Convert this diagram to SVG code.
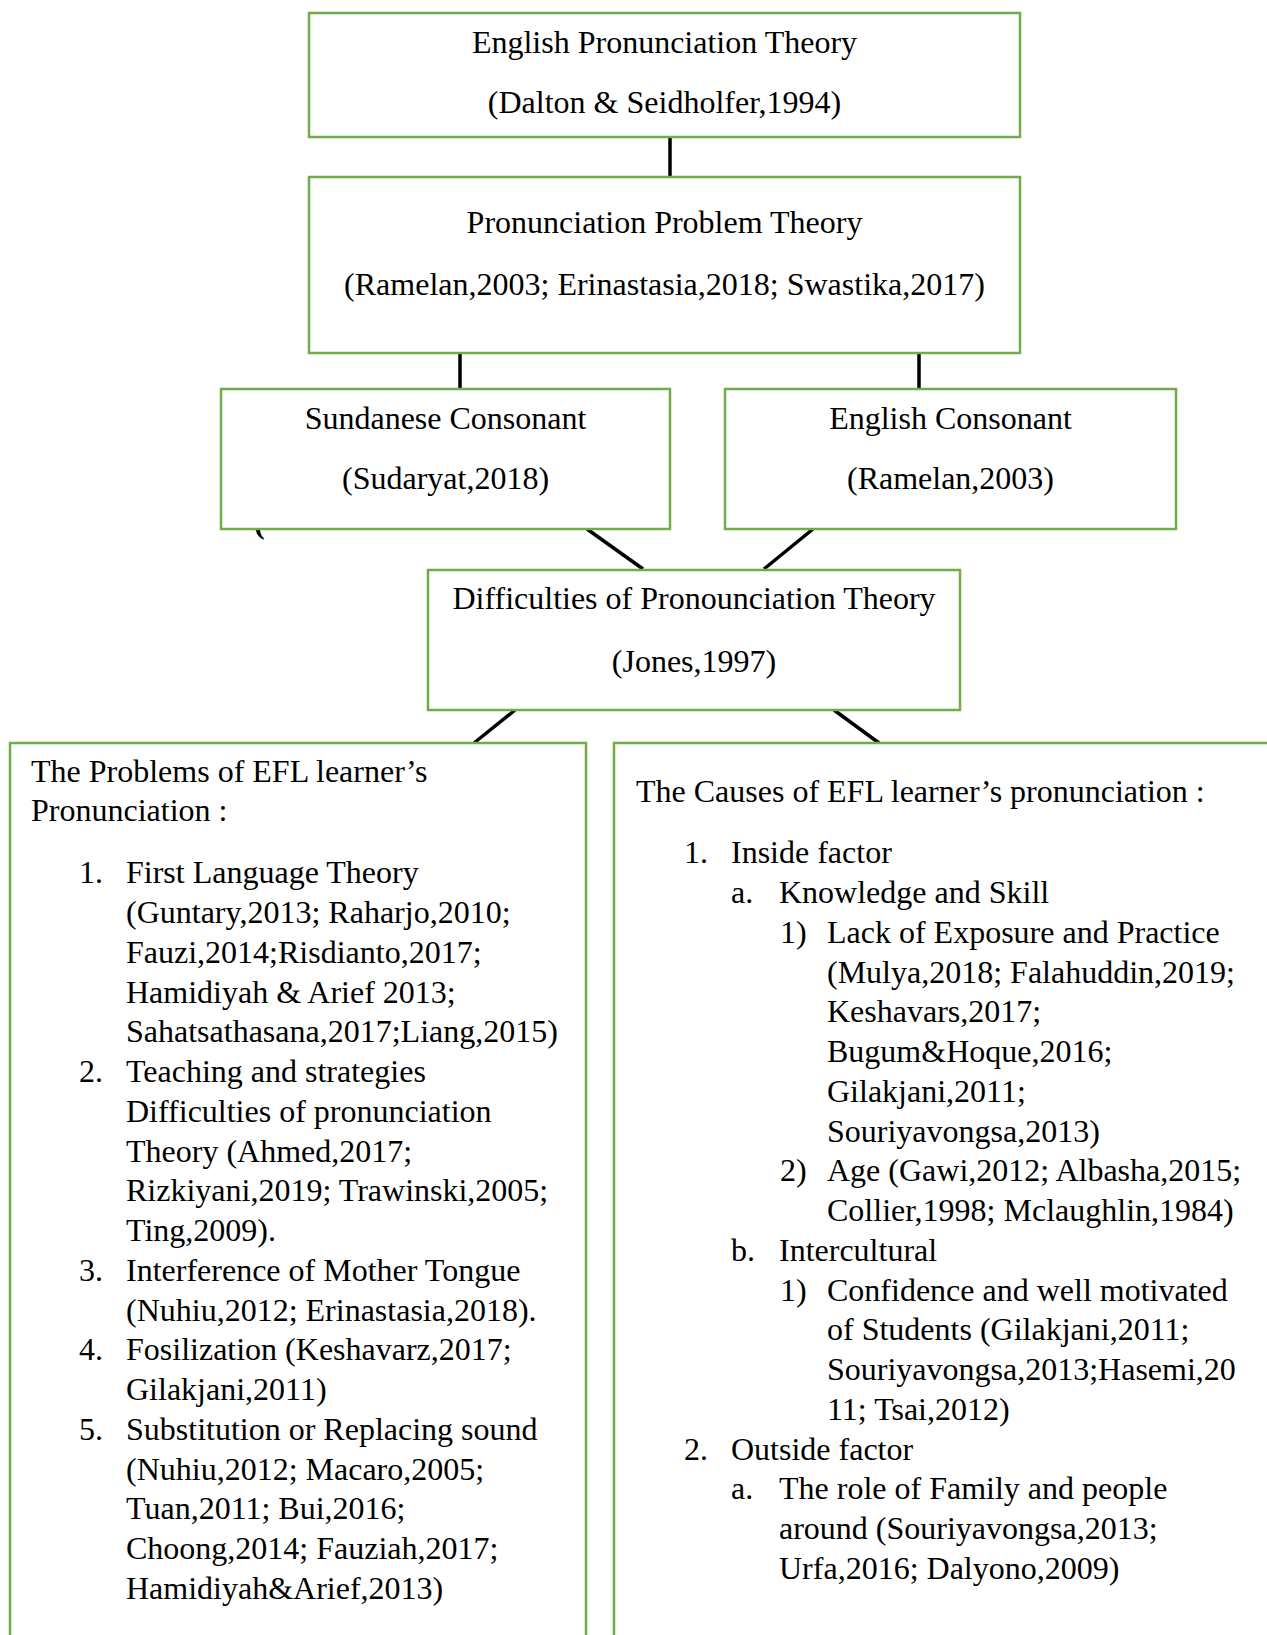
<svg xmlns="http://www.w3.org/2000/svg" width="1267" height="1635" viewBox="0 0 1267 1635">
<style>
.box{fill:#fff;stroke:#70AD47;stroke-width:2.5}
.t{font-family:"Liberation Serif","Times New Roman",serif;font-size:32px;fill:#000}
.c{text-anchor:middle}
.ln{stroke:#000;stroke-width:3.5;fill:none}
</style>
<rect width="1267" height="1635" fill="#fff"/>
<text class="t" x="254" y="533" font-weight="bold">(</text>
<g id="connectors">
<line class="ln" x1="670" y1="137" x2="670" y2="177"/>
<line class="ln" x1="460" y1="353" x2="460" y2="389"/>
<line class="ln" x1="919" y1="353" x2="919" y2="389"/>
<line class="ln" x1="587" y1="529" x2="643" y2="569"/>
<line class="ln" x1="813" y1="529" x2="764" y2="569"/>
<line class="ln" x1="515" y1="710" x2="474" y2="743"/>
<line class="ln" x1="834" y1="710" x2="879" y2="743"/>
</g>
<g id="n1">
<rect class="box" x="309" y="13" width="711" height="124"/>
<text class="t c" x="664.5" y="53">English Pronunciation Theory</text>
<text class="t c" x="664.5" y="113">(Dalton &amp; Seidholfer,1994)</text>
</g>
<g id="n2">
<rect class="box" x="309" y="177" width="711" height="176"/>
<text class="t c" x="664.5" y="233">Pronunciation Problem Theory</text>
<text class="t c" x="664.5" y="295">(Ramelan,2003; Erinastasia,2018; Swastika,2017)</text>
</g>
<g id="n3">
<rect class="box" x="221" y="389" width="449" height="140"/>
<text class="t c" x="445.5" y="429">Sundanese Consonant</text>
<text class="t c" x="445.5" y="489">(Sudaryat,2018)</text>
</g>
<g id="n4">
<rect class="box" x="725" y="389" width="451" height="140"/>
<text class="t c" x="950.5" y="429">English Consonant</text>
<text class="t c" x="950.5" y="489">(Ramelan,2003)</text>
</g>
<g id="n5">
<rect class="box" x="428" y="570" width="532" height="140"/>
<text class="t c" x="694" y="609">Difficulties of Pronounciation Theory</text>
<text class="t c" x="694" y="672">(Jones,1997)</text>
</g>
<g id="n6">
<rect class="box" x="10" y="743" width="576" height="920"/>
<text class="t" x="31" y="782">The Problems of EFL learner’s</text>
<text class="t" x="31" y="821">Pronunciation :</text>
<text class="t" x="79" y="883.3">1.</text>
<text class="t" x="126" y="883.3">First Language Theory</text>
<text class="t" x="126" y="923">(Guntary,2013; Raharjo,2010;</text>
<text class="t" x="126" y="962.8">Fauzi,2014;Risdianto,2017;</text>
<text class="t" x="126" y="1002.5">Hamidiyah &amp; Arief 2013;</text>
<text class="t" x="126" y="1042.3">Sahatsathasana,2017;Liang,2015)</text>
<text class="t" x="79" y="1082">2.</text>
<text class="t" x="126" y="1082">Teaching and strategies</text>
<text class="t" x="126" y="1121.8">Difficulties of pronunciation</text>
<text class="t" x="126" y="1161.5">Theory (Ahmed,2017;</text>
<text class="t" x="126" y="1201.3">Rizkiyani,2019; Trawinski,2005;</text>
<text class="t" x="126" y="1241">Ting,2009).</text>
<text class="t" x="79" y="1280.8">3.</text>
<text class="t" x="126" y="1280.8">Interference of Mother Tongue</text>
<text class="t" x="126" y="1320.5">(Nuhiu,2012; Erinastasia,2018).</text>
<text class="t" x="79" y="1360.3">4.</text>
<text class="t" x="126" y="1360.3">Fosilization (Keshavarz,2017;</text>
<text class="t" x="126" y="1400">Gilakjani,2011)</text>
<text class="t" x="79" y="1439.8">5.</text>
<text class="t" x="126" y="1439.8">Substitution or Replacing sound</text>
<text class="t" x="126" y="1479.5">(Nuhiu,2012; Macaro,2005;</text>
<text class="t" x="126" y="1519.3">Tuan,2011; Bui,2016;</text>
<text class="t" x="126" y="1559">Choong,2014; Fauziah,2017;</text>
<text class="t" x="126" y="1598.8">Hamidiyah&amp;Arief,2013)</text>
</g>
<g id="n7">
<rect class="box" x="614" y="743" width="700" height="920"/>
<text class="t" x="636" y="801.7">The Causes of EFL learner’s pronunciation :</text>
<text class="t" x="684" y="863.3">1.</text>
<text class="t" x="731" y="863.3">Inside factor</text>
<text class="t" x="731" y="903">a.</text>
<text class="t" x="779" y="903">Knowledge and Skill</text>
<text class="t" x="780" y="942.8">1)</text>
<text class="t" x="827" y="942.8">Lack of Exposure and Practice</text>
<text class="t" x="827" y="982.5">(Mulya,2018; Falahuddin,2019;</text>
<text class="t" x="827" y="1022.3">Keshavars,2017;</text>
<text class="t" x="827" y="1062">Bugum&amp;Hoque,2016;</text>
<text class="t" x="827" y="1101.8">Gilakjani,2011;</text>
<text class="t" x="827" y="1141.5">Souriyavongsa,2013)</text>
<text class="t" x="780" y="1181.3">2)</text>
<text class="t" x="827" y="1181.3">Age (Gawi,2012; Albasha,2015;</text>
<text class="t" x="827" y="1221">Collier,1998; Mclaughlin,1984)</text>
<text class="t" x="731" y="1260.8">b.</text>
<text class="t" x="779" y="1260.8">Intercultural</text>
<text class="t" x="780" y="1300.5">1)</text>
<text class="t" x="827" y="1300.5">Confidence and well motivated</text>
<text class="t" x="827" y="1340.3">of Students (Gilakjani,2011;</text>
<text class="t" x="827" y="1380">Souriyavongsa,2013;Hasemi,20</text>
<text class="t" x="827" y="1419.8">11; Tsai,2012)</text>
<text class="t" x="684" y="1459.5">2.</text>
<text class="t" x="731" y="1459.5">Outside factor</text>
<text class="t" x="731" y="1499.3">a.</text>
<text class="t" x="779" y="1499.3">The role of Family and people</text>
<text class="t" x="779" y="1539">around (Souriyavongsa,2013;</text>
<text class="t" x="779" y="1578.8">Urfa,2016; Dalyono,2009)</text>
</g>
</svg>
